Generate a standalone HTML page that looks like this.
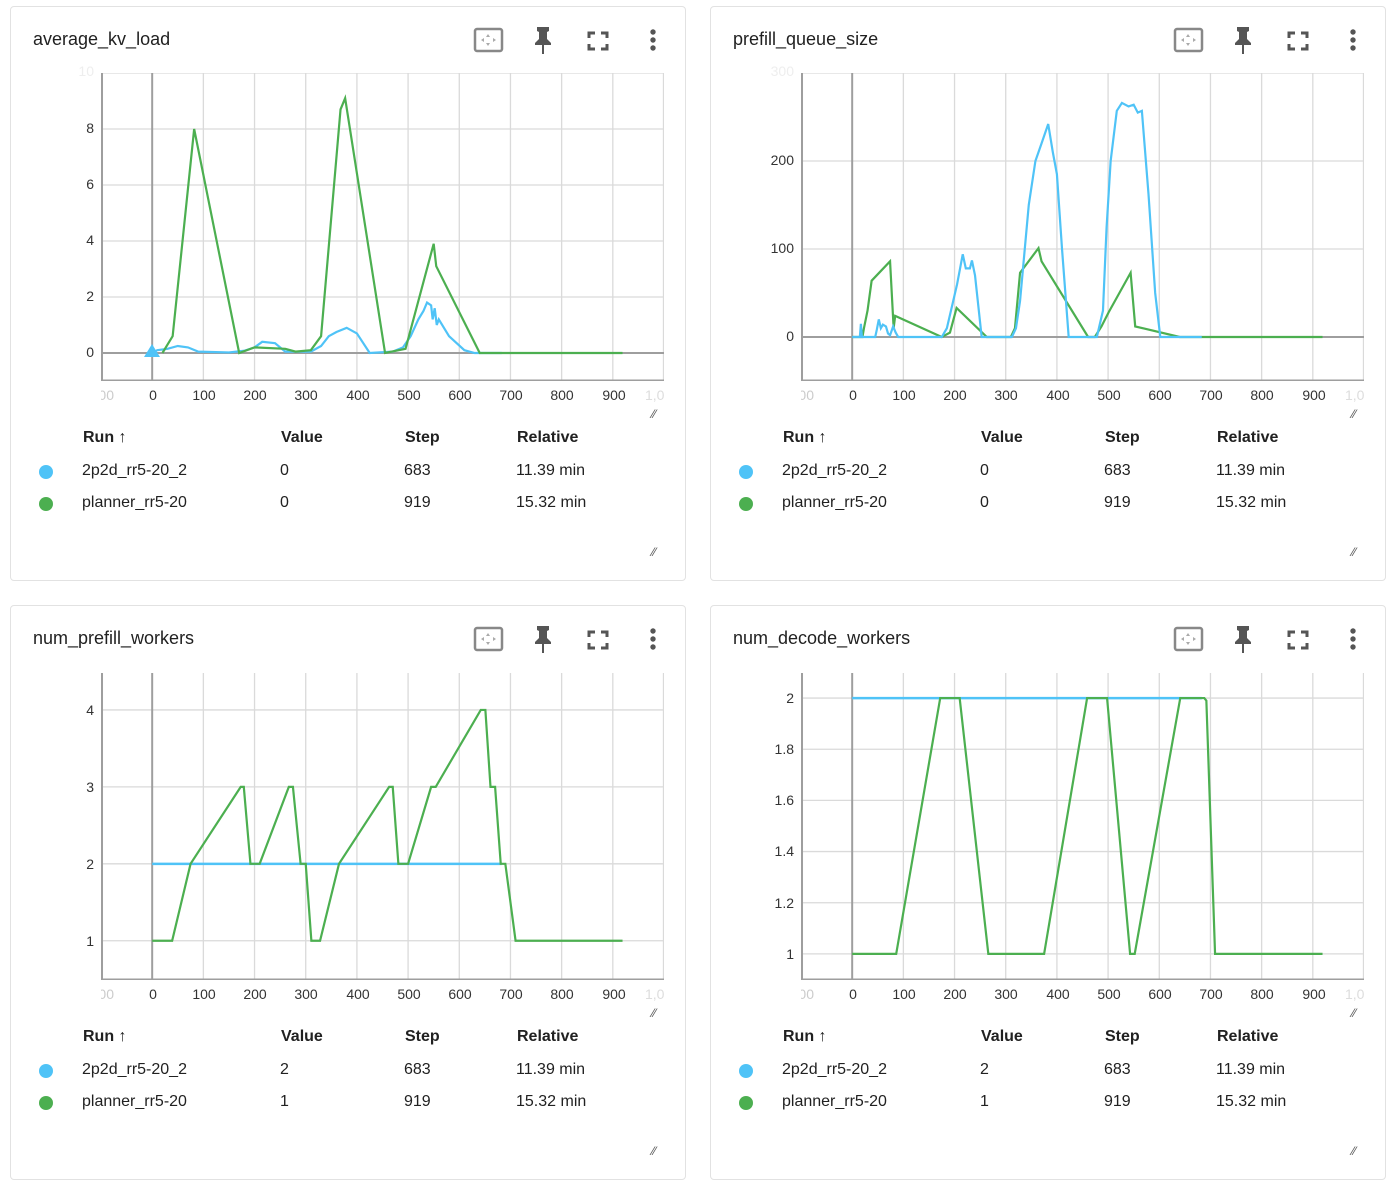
<!DOCTYPE html>
<html><head><meta charset="utf-8"><style>
body{margin:0;width:1387px;height:1162px;background:#fff;overflow:hidden;font-family:"Liberation Sans",sans-serif;color:#212121;position:relative}
.card{position:absolute;width:676px;height:575px;border:1px solid #e2e2e2;border-radius:4px;box-sizing:border-box;background:#fff}
.t{position:absolute;white-space:nowrap}
.title{left:22px;top:22px;font-size:18px;color:#212121}
.yl{font-size:14px;color:#333;text-align:right;width:40px;left:43px}
.xl{font-size:14px;color:#333;width:40px;text-align:center;top:380px}
.clipl{position:absolute;left:90px;top:380px;width:13px;height:18px;overflow:hidden;font-size:14px;color:#ccc}
.clipl span{position:absolute;right:0;white-space:nowrap}
.hd{font-size:16px;font-weight:bold;top:422px}
.rw{font-size:16px}
.dot{position:absolute;width:14px;height:14px;border-radius:50%}
svg.ic{position:absolute}
</style></head><body>

<div class="card" style="left:10px;top:6px">
 <div class="t title">average_kv_load</div>
 <svg class="ic" style="left:462px;top:20px" width="200" height="30">
  <rect x="2" y="2" width="27" height="22" rx="2" fill="none" stroke="#888" stroke-width="2.5"/>
  <path d="M15 7l2 3h-4zM15 19l2-3h-4zM8 13l3-2v4zM23 13l-3-2v4z" fill="#aaa"/>
  <path d="M64 0h12v4l-2 1v7l4 4v2h-7v9h-2v-9h-7v-2l4-4v-7l-2-1z" fill="#555"/>
  <path d="M116 11v-5h6M128 6h6v5M134 17v5h-6M122 22h-6v-5" fill="none" stroke="#555" stroke-width="3"/>
  <circle cx="180" cy="5" r="2.7" fill="#555"/><circle cx="180" cy="13" r="2.7" fill="#555"/><circle cx="180" cy="21" r="2.7" fill="#555"/>
 </svg>
 <svg style="position:absolute;left:90px;top:66px" width="563" height="308" viewBox="-100 -10 1100 11" preserveAspectRatio="none">
  <path vector-effect="non-scaling-stroke" stroke="#dadada" stroke-width="1.3" fill="none" d="M100 -10V1M200 -10V1M300 -10V1M400 -10V1M500 -10V1M600 -10V1M700 -10V1M800 -10V1M900 -10V1M999 -10V1M-100 -10H1000M-100 -8H1000M-100 -6H1000M-100 -4H1000M-100 -2H1000"/>
  <path vector-effect="non-scaling-stroke" d="M0 -10V1M-100 0H1000" stroke="#9e9e9e" stroke-width="2" fill="none"/>
  <path vector-effect="non-scaling-stroke" d="M-99 -10V1M-100 1H1000" stroke="#9e9e9e" stroke-width="3" fill="none"/>
  <polyline vector-effect="non-scaling-stroke" fill="none" stroke="#4fc3f7" stroke-width="2.2" points="0,0 10,-0.1 30,-0.15 50,-0.25 70,-0.2 90,-0.05 150,-0.02 180,-0.08 200,-0.2 215,-0.4 240,-0.35 260,-0.05 310,-0.05 330,-0.25 345,-0.6 360,-0.75 380,-0.9 400,-0.7 425,0 470,-0.05 490,-0.2 505,-0.6 520,-1.2 530,-1.5 537,-1.8 545,-1.7 548,-1.2 552,-1.6 556,-1.0 560,-1.2 580,-0.6 610,-0.1 630,0 683,0"/>
  <polyline vector-effect="non-scaling-stroke" fill="none" stroke="#4caf50" stroke-width="2.2" points="20,0 30,-0.3 40,-0.6 82,-8 170,0 200,-0.2 260,-0.15 280,-0.05 310,-0.1 330,-0.6 368,-8.7 377,-9.1 455,0 495,-0.15 550,-3.9 555,-3.1 640,0 919,0"/>
 </svg>
 <svg style="position:absolute;left:132px;top:336px" width="18" height="16"><path d="M9 1L17 14H1z" fill="#4fc3f7"/></svg>
 <div class="t yl" style="top:56px;color:#eee">10</div>
 <div class="t yl" style="top:113px">8</div><div class="t yl" style="top:169px">6</div><div class="t yl" style="top:225px">4</div><div class="t yl" style="top:281px">2</div><div class="t yl" style="top:337px">0</div>
 <div class="clipl"><span>-100</span></div><div class="t xl" style="left:122px">0</div><div class="t xl" style="left:173px">100</div><div class="t xl" style="left:224px">200</div><div class="t xl" style="left:275px">300</div><div class="t xl" style="left:327px">400</div><div class="t xl" style="left:378px">500</div><div class="t xl" style="left:429px">600</div><div class="t xl" style="left:480px">700</div><div class="t xl" style="left:531px">800</div><div class="t xl" style="left:583px">900</div><div class="t xl" style="left:634px;color:#ddd;width:20px;overflow:hidden;text-align:left">1,000</div>
 <div class="t" style="left:641px;top:400px;font-size:12px;color:#555">⁄⁄</div>
 <div class="t hd" style="left:72px">Run ↑</div><div class="t hd" style="left:270px">Value</div><div class="t hd" style="left:394px">Step</div><div class="t hd" style="left:506px">Relative</div>
 <div class="dot" style="left:28px;top:458px;background:#4fc3f7"></div><div class="dot" style="left:28px;top:490px;background:#4caf50"></div>
 <div class="t rw" style="left:71px;top:455px">2p2d_rr5-20_2</div><div class="t rw" style="left:269px;top:455px">0</div><div class="t rw" style="left:393px;top:455px">683</div><div class="t rw" style="left:505px;top:455px">11.39 min</div>
 <div class="t rw" style="left:71px;top:487px">planner_rr5-20</div><div class="t rw" style="left:269px;top:487px">0</div><div class="t rw" style="left:393px;top:487px">919</div><div class="t rw" style="left:505px;top:487px">15.32 min</div>
 <div class="t" style="left:641px;top:538px;font-size:12px;color:#555">⁄⁄</div>
</div>

<div class="card" style="left:710px;top:6px">
 <div class="t title">prefill_queue_size</div>
 <svg class="ic" style="left:462px;top:20px" width="200" height="30">
  <rect x="2" y="2" width="27" height="22" rx="2" fill="none" stroke="#888" stroke-width="2.5"/>
  <path d="M15 7l2 3h-4zM15 19l2-3h-4zM8 13l3-2v4zM23 13l-3-2v4z" fill="#aaa"/>
  <path d="M64 0h12v4l-2 1v7l4 4v2h-7v9h-2v-9h-7v-2l4-4v-7l-2-1z" fill="#555"/>
  <path d="M116 11v-5h6M128 6h6v5M134 17v5h-6M122 22h-6v-5" fill="none" stroke="#555" stroke-width="3"/>
  <circle cx="180" cy="5" r="2.7" fill="#555"/><circle cx="180" cy="13" r="2.7" fill="#555"/><circle cx="180" cy="21" r="2.7" fill="#555"/>
 </svg>
 <svg style="position:absolute;left:90px;top:66px" width="563" height="308" viewBox="-100 -300 1100 350" preserveAspectRatio="none">
  <path vector-effect="non-scaling-stroke" stroke="#dadada" stroke-width="1.3" fill="none" d="M100 -300V50M200 -300V50M300 -300V50M400 -300V50M500 -300V50M600 -300V50M700 -300V50M800 -300V50M900 -300V50M999 -300V50M-100 -300H1000M-100 -200H1000M-100 -100H1000"/>
  <path vector-effect="non-scaling-stroke" d="M0 -300V50M-100 0H1000" stroke="#9e9e9e" stroke-width="2" fill="none"/>
  <path vector-effect="non-scaling-stroke" d="M-99 -300V50M-100 50H1000" stroke="#9e9e9e" stroke-width="3" fill="none"/>
  <polyline vector-effect="non-scaling-stroke" fill="none" stroke="#4caf50" stroke-width="2.2" points="0,0 20,0 23,-10 30,-30 38,-64 74,-86 81,-10 84,-24 175,0 191,-5 204,-33 263,0 310,0 318,-10 328,-73 364,-101 370,-86 461,0 474,0 487,-12 501,-28 544,-73 553,-12 640,0 919,0"/>
  <polyline vector-effect="non-scaling-stroke" fill="none" stroke="#4fc3f7" stroke-width="2.2" points="0,0 15,0 17,-15 19,0 45,0 48,-8 52,-20 56,-10 60,-14 66,-12 70,-4 74,-2 80,-12 85,-5 90,0 175,0 185,-10 195,-35 205,-60 216,-94 222,-78 230,-78 234,-87 240,-70 253,0 312,0 320,-10 328,-41 345,-150 358,-200 370,-220 383,-242 392,-210 400,-185 410,-100 423,0 478,0 490,-30 497,-124 505,-200 517,-257 527,-266 540,-262 550,-264 558,-255 566,-257 579,-162 592,-50 602,0 683,0"/>
 </svg>
 <div class="t yl" style="top:56px;color:#eee">300</div>
 <div class="t yl" style="top:145px">200</div><div class="t yl" style="top:233px">100</div><div class="t yl" style="top:321px">0</div>
 <div class="clipl"><span>-100</span></div><div class="t xl" style="left:122px">0</div><div class="t xl" style="left:173px">100</div><div class="t xl" style="left:224px">200</div><div class="t xl" style="left:275px">300</div><div class="t xl" style="left:327px">400</div><div class="t xl" style="left:378px">500</div><div class="t xl" style="left:429px">600</div><div class="t xl" style="left:480px">700</div><div class="t xl" style="left:531px">800</div><div class="t xl" style="left:583px">900</div><div class="t xl" style="left:634px;color:#ddd;width:20px;overflow:hidden;text-align:left">1,000</div>
 <div class="t" style="left:641px;top:400px;font-size:12px;color:#555">⁄⁄</div>
 <div class="t hd" style="left:72px">Run ↑</div><div class="t hd" style="left:270px">Value</div><div class="t hd" style="left:394px">Step</div><div class="t hd" style="left:506px">Relative</div>
 <div class="dot" style="left:28px;top:458px;background:#4fc3f7"></div><div class="dot" style="left:28px;top:490px;background:#4caf50"></div>
 <div class="t rw" style="left:71px;top:455px">2p2d_rr5-20_2</div><div class="t rw" style="left:269px;top:455px">0</div><div class="t rw" style="left:393px;top:455px">683</div><div class="t rw" style="left:505px;top:455px">11.39 min</div>
 <div class="t rw" style="left:71px;top:487px">planner_rr5-20</div><div class="t rw" style="left:269px;top:487px">0</div><div class="t rw" style="left:393px;top:487px">919</div><div class="t rw" style="left:505px;top:487px">15.32 min</div>
 <div class="t" style="left:641px;top:538px;font-size:12px;color:#555">⁄⁄</div>
</div>

<div class="card" style="left:10px;top:605px">
 <div class="t title">num_prefill_workers</div>
 <svg class="ic" style="left:462px;top:20px" width="200" height="30">
  <rect x="2" y="2" width="27" height="22" rx="2" fill="none" stroke="#888" stroke-width="2.5"/>
  <path d="M15 7l2 3h-4zM15 19l2-3h-4zM8 13l3-2v4zM23 13l-3-2v4z" fill="#aaa"/>
  <path d="M64 0h12v4l-2 1v7l4 4v2h-7v9h-2v-9h-7v-2l4-4v-7l-2-1z" fill="#555"/>
  <path d="M116 11v-5h6M128 6h6v5M134 17v5h-6M122 22h-6v-5" fill="none" stroke="#555" stroke-width="3"/>
  <circle cx="180" cy="5" r="2.7" fill="#555"/><circle cx="180" cy="13" r="2.7" fill="#555"/><circle cx="180" cy="21" r="2.7" fill="#555"/>
 </svg>
 <svg style="position:absolute;left:90px;top:67px" width="563" height="307" viewBox="-100 -4.48 1100 3.99" preserveAspectRatio="none">
  <path vector-effect="non-scaling-stroke" stroke="#dadada" stroke-width="1.3" fill="none" d="M100 -5V0M200 -5V0M300 -5V0M400 -5V0M500 -5V0M600 -5V0M700 -5V0M800 -5V0M900 -5V0M999 -5V0M-100 -4H1000M-100 -3H1000M-100 -2H1000M-100 -1H1000"/>
  <path vector-effect="non-scaling-stroke" d="M0 -5V0" stroke="#9e9e9e" stroke-width="2" fill="none"/>
  <path vector-effect="non-scaling-stroke" d="M-99 -5V0M-100 -0.49H1000" stroke="#9e9e9e" stroke-width="3" fill="none"/>
  <polyline vector-effect="non-scaling-stroke" fill="none" stroke="#4fc3f7" stroke-width="2.5" points="0,-2 683,-2"/>
  <polyline vector-effect="non-scaling-stroke" fill="none" stroke="#4caf50" stroke-width="2.2" points="0,-1 39,-1 75,-2 173,-3 179,-3 192,-2 210,-2 267,-3 275,-3 290,-2 300,-2 311,-1 328,-1 365,-2 463,-3 470,-3 481,-2 500,-2 545,-3 554,-3 642,-4 651,-4 661,-3 670,-3 681,-2 690,-2 710,-1 919,-1"/>
 </svg>
 <div class="t yl" style="top:96px">4</div><div class="t yl" style="top:173px">3</div><div class="t yl" style="top:250px">2</div><div class="t yl" style="top:327px">1</div>
 <div class="clipl"><span>-100</span></div><div class="t xl" style="left:122px">0</div><div class="t xl" style="left:173px">100</div><div class="t xl" style="left:224px">200</div><div class="t xl" style="left:275px">300</div><div class="t xl" style="left:327px">400</div><div class="t xl" style="left:378px">500</div><div class="t xl" style="left:429px">600</div><div class="t xl" style="left:480px">700</div><div class="t xl" style="left:531px">800</div><div class="t xl" style="left:583px">900</div><div class="t xl" style="left:634px;color:#ddd;width:20px;overflow:hidden;text-align:left">1,000</div>
 <div class="t" style="left:641px;top:400px;font-size:12px;color:#555">⁄⁄</div>
 <div class="t hd" style="left:72px">Run ↑</div><div class="t hd" style="left:270px">Value</div><div class="t hd" style="left:394px">Step</div><div class="t hd" style="left:506px">Relative</div>
 <div class="dot" style="left:28px;top:458px;background:#4fc3f7"></div><div class="dot" style="left:28px;top:490px;background:#4caf50"></div>
 <div class="t rw" style="left:71px;top:455px">2p2d_rr5-20_2</div><div class="t rw" style="left:269px;top:455px">2</div><div class="t rw" style="left:393px;top:455px">683</div><div class="t rw" style="left:505px;top:455px">11.39 min</div>
 <div class="t rw" style="left:71px;top:487px">planner_rr5-20</div><div class="t rw" style="left:269px;top:487px">1</div><div class="t rw" style="left:393px;top:487px">919</div><div class="t rw" style="left:505px;top:487px">15.32 min</div>
 <div class="t" style="left:641px;top:538px;font-size:12px;color:#555">⁄⁄</div>
</div>

<div class="card" style="left:710px;top:605px">
 <div class="t title">num_decode_workers</div>
 <svg class="ic" style="left:462px;top:20px" width="200" height="30">
  <rect x="2" y="2" width="27" height="22" rx="2" fill="none" stroke="#888" stroke-width="2.5"/>
  <path d="M15 7l2 3h-4zM15 19l2-3h-4zM8 13l3-2v4zM23 13l-3-2v4z" fill="#aaa"/>
  <path d="M64 0h12v4l-2 1v7l4 4v2h-7v9h-2v-9h-7v-2l4-4v-7l-2-1z" fill="#555"/>
  <path d="M116 11v-5h6M128 6h6v5M134 17v5h-6M122 22h-6v-5" fill="none" stroke="#555" stroke-width="3"/>
  <circle cx="180" cy="5" r="2.7" fill="#555"/><circle cx="180" cy="13" r="2.7" fill="#555"/><circle cx="180" cy="21" r="2.7" fill="#555"/>
 </svg>
 <svg style="position:absolute;left:90px;top:67px" width="563" height="307" viewBox="-100 -2.098 1100 1.2" preserveAspectRatio="none">
  <path vector-effect="non-scaling-stroke" stroke="#dadada" stroke-width="1.3" fill="none" d="M100 -3V0M200 -3V0M300 -3V0M400 -3V0M500 -3V0M600 -3V0M700 -3V0M800 -3V0M900 -3V0M999 -3V0M-100 -2H1000M-100 -1.8H1000M-100 -1.6H1000M-100 -1.4H1000M-100 -1.2H1000M-100 -1H1000"/>
  <path vector-effect="non-scaling-stroke" d="M0 -3V0" stroke="#9e9e9e" stroke-width="2" fill="none"/>
  <path vector-effect="non-scaling-stroke" d="M-99 -3V0M-100 -0.898H1000" stroke="#9e9e9e" stroke-width="3" fill="none"/>
  <polyline vector-effect="non-scaling-stroke" fill="none" stroke="#4fc3f7" stroke-width="2.5" points="0,-2 683,-2"/>
  <polyline vector-effect="non-scaling-stroke" fill="none" stroke="#4caf50" stroke-width="2.2" points="0,-1 86,-1 172,-2 210,-2 266,-1 375,-1 459,-2 498,-2 543,-1 552,-1 641,-2 688,-2 692,-1.99 709,-1 919,-1"/>
 </svg>
 <div class="t yl" style="top:84px">2</div><div class="t yl" style="top:135px">1.8</div><div class="t yl" style="top:186px">1.6</div><div class="t yl" style="top:237px">1.4</div><div class="t yl" style="top:289px">1.2</div><div class="t yl" style="top:340px">1</div>
 <div class="clipl"><span>-100</span></div><div class="t xl" style="left:122px">0</div><div class="t xl" style="left:173px">100</div><div class="t xl" style="left:224px">200</div><div class="t xl" style="left:275px">300</div><div class="t xl" style="left:327px">400</div><div class="t xl" style="left:378px">500</div><div class="t xl" style="left:429px">600</div><div class="t xl" style="left:480px">700</div><div class="t xl" style="left:531px">800</div><div class="t xl" style="left:583px">900</div><div class="t xl" style="left:634px;color:#ddd;width:20px;overflow:hidden;text-align:left">1,000</div>
 <div class="t" style="left:641px;top:400px;font-size:12px;color:#555">⁄⁄</div>
 <div class="t hd" style="left:72px">Run ↑</div><div class="t hd" style="left:270px">Value</div><div class="t hd" style="left:394px">Step</div><div class="t hd" style="left:506px">Relative</div>
 <div class="dot" style="left:28px;top:458px;background:#4fc3f7"></div><div class="dot" style="left:28px;top:490px;background:#4caf50"></div>
 <div class="t rw" style="left:71px;top:455px">2p2d_rr5-20_2</div><div class="t rw" style="left:269px;top:455px">2</div><div class="t rw" style="left:393px;top:455px">683</div><div class="t rw" style="left:505px;top:455px">11.39 min</div>
 <div class="t rw" style="left:71px;top:487px">planner_rr5-20</div><div class="t rw" style="left:269px;top:487px">1</div><div class="t rw" style="left:393px;top:487px">919</div><div class="t rw" style="left:505px;top:487px">15.32 min</div>
 <div class="t" style="left:641px;top:538px;font-size:12px;color:#555">⁄⁄</div>
</div>
</body></html>
